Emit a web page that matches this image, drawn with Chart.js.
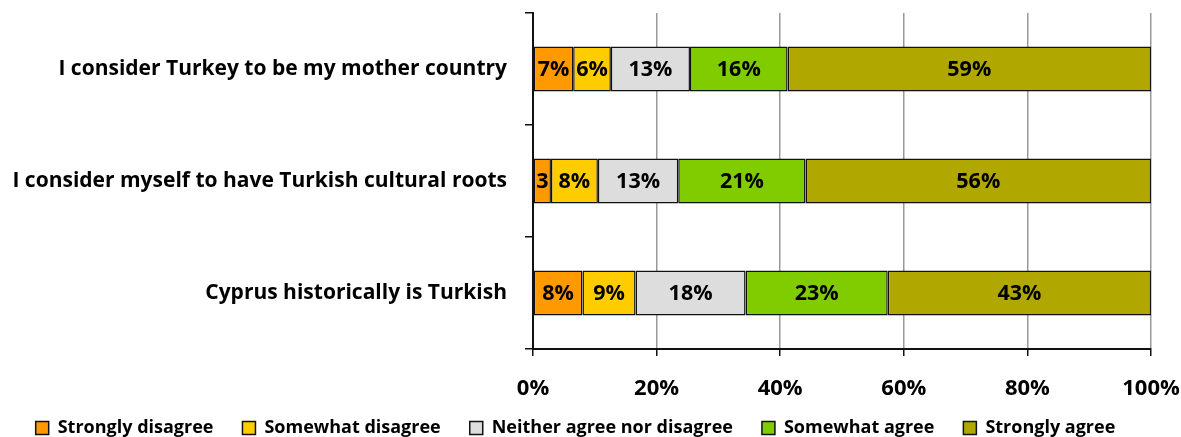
<!DOCTYPE html>
<html>
<head>
<meta charset="utf-8">
<script src="https://cdn.jsdelivr.net/npm/chart.js@4"></script>
<style>
  html, body { margin: 0; padding: 0; background: #fff; }
  #wrap { width: 1181px; height: 437px; }
</style>
</head>
<body>
<div id="wrap"><canvas id="myChart" width="1181" height="437"></canvas></div>
<script>
const statements = ['I consider Turkey to be my mother country', 'I consider myself to have Turkish cultural roots', 'Cyprus historically is Turkish'];
const answerNames = ['Strongly disagree', 'Somewhat disagree', 'Neither agree nor disagree', 'Somewhat agree', 'Strongly agree'];
const stronglyDisagree = [6.5, 2.9, 8.0];
const somewhatDisagree = [6.1, 7.6, 8.6];
const neither = [12.8, 13.0, 17.8];
const somewhatAgree = [15.8, 20.6, 23.0];
const stronglyAgree = [58.8, 55.9, 42.6];
const xTicks = [0, 20, 40, 60, 80, 100];
const colours = ['#FF9900', '#FFCC00', '#DDDDDD', '#80CC00', '#B0A800'];

const FONT = '"Open Sans", Lato, sans-serif';

// labels in the middle of each segment, like the excel data labels
const barLabels = {
  id: 'barLabels',
  afterDatasetsDraw(chart) {
    const ctx = chart.ctx;
    ctx.save();
    ctx.font = 'bold 21.5px ' + FONT;
    ctx.fillStyle = '#000';
    ctx.textAlign = 'center';
    ctx.textBaseline = 'middle';
    chart.data.datasets.forEach((ds, i) => {
      const meta = chart.getDatasetMeta(i);
      meta.data.forEach((bar, j) => {
        const w = bar.x - bar.base;
        let txt = Math.round(ds.data[j]) + '%';
        if (ctx.measureText(txt).width > w - 2) txt = String(Math.round(ds.data[j]));
        ctx.fillText(txt, (bar.x + bar.base) / 2, bar.y + 1);
      });
    });
    ctx.restore();
  }
};

// legend: small box, but drawn a bit higher than chart.js puts it
const legendFix = {
  id: 'legendFix',
  beforeLayout(chart) {
    const lg = chart.legend;
    if (lg && !lg._patched) {
      const f = lg.fit;
      lg.fit = function () { f.call(this); this.height = 28; };
      const d = lg.draw;
      lg.draw = function () {
        const t = this.top;
        this.top = t - 19;
        d.call(this);
        this.top = t;
      };
      lg._patched = true;
    }
  }
};

const series = [stronglyDisagree, somewhatDisagree, neither, somewhatAgree, stronglyAgree];

const options = {
  type: 'bar',
  data: {
    labels: statements,
    datasets: series.map((d, i) => ({
      label: answerNames[i],
      data: d,
      backgroundColor: colours[i],
      borderColor: '#111',
      borderWidth: 1.5,
      borderSkipped: false,
      barPercentage: 0.8,
      categoryPercentage: 0.5
    }))
  },
  options: {
    indexAxis: 'y',
    responsive: false,
    animation: false,
    layout: { padding: { left: 0, right: 30, top: 13, bottom: 0 } },
    plugins: {
      tooltip: { enabled: false },
      legend: {
        position: 'bottom',
        labels: {
          color: '#000',
          font: { family: FONT, size: 18, weight: 'bold' },
          boxWidth: 13,
          boxHeight: 13,
          padding: 29
        }
      }
    },
    scales: {
      x: {
        stacked: true,
        min: 0,
        max: 100,
        afterBuildTicks: (s) => { s.ticks = xTicks.map(v => ({ value: v })); },
        afterFit: (s) => { s.height = 60; s.paddingLeft = 0; s.paddingRight = 0; },
        ticks: {
          color: '#000',
          padding: 20,
          maxRotation: 0,
          font: { family: FONT, size: 22, weight: 'bold' },
          callback: (v) => v + '%'
        },
        grid: { color: '#999', lineWidth: 1.5, tickColor: '#111', tickLength: 7 },
        border: { color: '#111', width: 2 }
      },
      y: {
        stacked: true,
        afterFit: (s) => { s.width = 533; s.paddingTop = 0; s.paddingBottom = 0; },
        ticks: {
          color: '#000',
          padding: 18,
          font: { family: FONT, size: 21, weight: 'bold' }
        },
        grid: { offset: true, drawOnChartArea: false, color: '#111', tickLength: 8, lineWidth: 1.5 },
        border: { color: '#111', width: 2 }
      }
    }
  },
  plugins: [barLabels, legendFix]
};

const ctx = document.getElementById('myChart').getContext('2d');
new Chart(ctx, options);
</script>
</body>
</html>
